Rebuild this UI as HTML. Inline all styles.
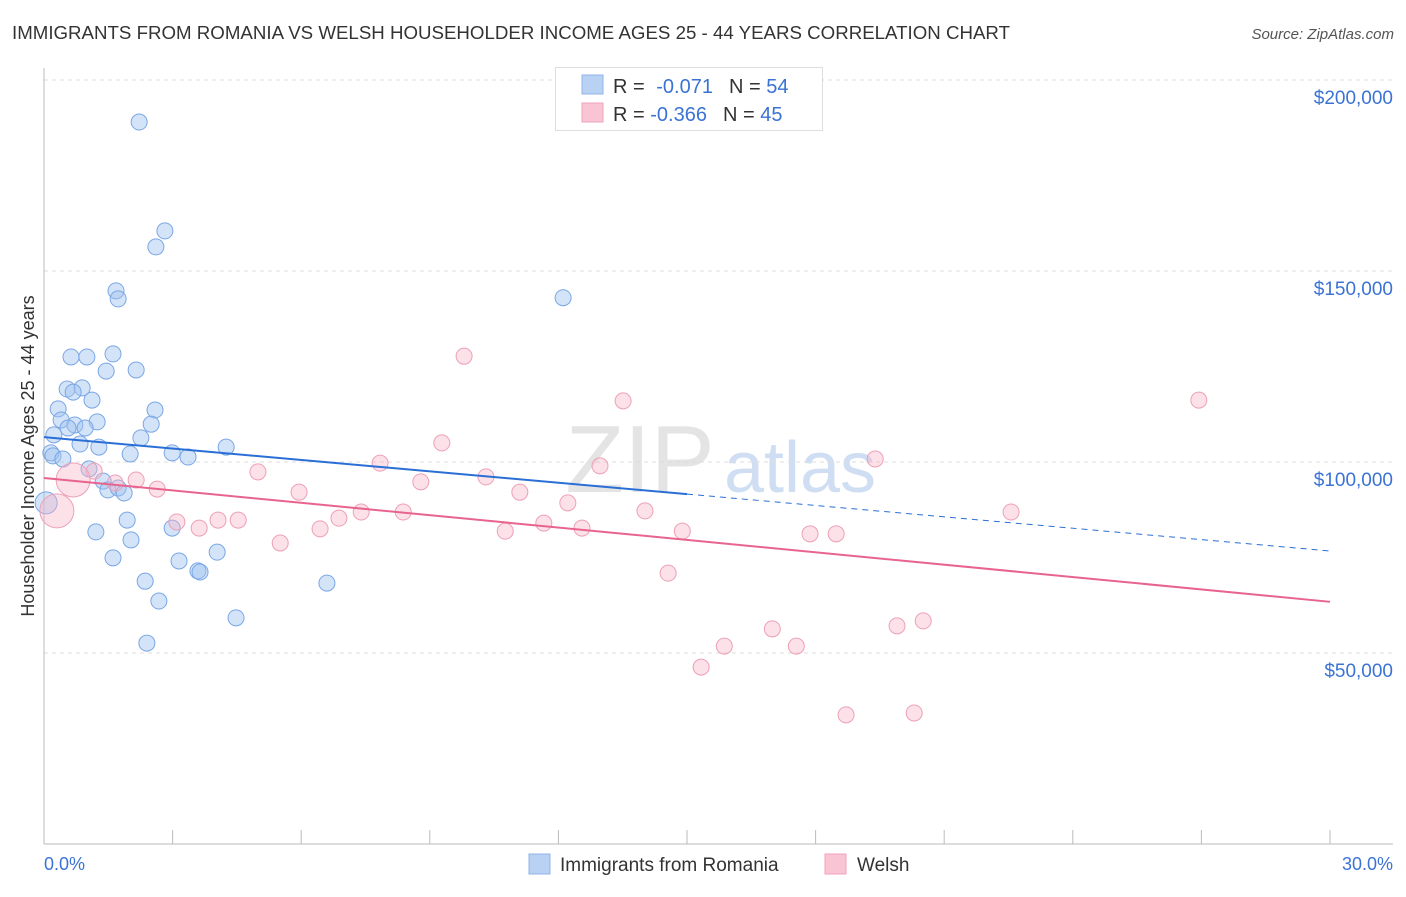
<!DOCTYPE html>
<html><head><meta charset="utf-8"><style>
body{margin:0;background:#fff;font-family:"Liberation Sans",sans-serif;}
svg text{font-family:"Liberation Sans",sans-serif;}
</style></head><body>
<svg id="chart" width="1406" height="892" xmlns="http://www.w3.org/2000/svg">
<text x="12" y="39" font-size="18" fill="#333" textLength="998" lengthAdjust="spacingAndGlyphs">IMMIGRANTS FROM ROMANIA VS WELSH HOUSEHOLDER INCOME AGES 25 - 44 YEARS CORRELATION CHART</text>
<text x="1394" y="39" font-size="15" fill="#555" font-style="italic" text-anchor="end">Source: ZipAtlas.com</text>
<text x="640" y="492" font-size="96" fill="#e4e4e4" text-anchor="middle" font-family="Liberation Serif">ZIP</text>
<text x="800" y="492" font-size="72" fill="#d0def4" text-anchor="middle">atlas</text>
<g id="grid"></g>
<line x1="44" y1="68" x2="44" y2="844" stroke="#bbb"/>
<line x1="44" y1="844" x2="1393" y2="844" stroke="#bbb"/>
<g id="xticks"></g>
<text transform="translate(34,456) rotate(-90)" font-size="18" fill="#333" text-anchor="middle">Householder Income Ages 25 - 44 years</text>
<text x="44" y="870" font-size="18" fill="#3b73d4">0.0%</text>
<text x="1393" y="870" font-size="18" fill="#3b73d4" text-anchor="end">30.0%</text>
<g id="points"></g>
<g id="trends"></g>
<g>
<rect x="555.5" y="67.5" width="267" height="63" fill="#fff" stroke="#ddd"/>
<rect x="582" y="75" width="21" height="19" fill="#b9d1f3" stroke="#8fb3ea"/>
<rect x="582" y="103" width="21" height="19" fill="#f9c5d5" stroke="#f0a3bb"/>
<text x="613" y="93" font-size="20" fill="#333">R = <tspan fill="#3b73d4" dx="6">-0.071</tspan><tspan dx="16">N = </tspan><tspan fill="#3b73d4">54</tspan></text>
<text x="613" y="121" font-size="20" fill="#333">R = <tspan fill="#3b73d4">-0.366</tspan><tspan dx="16">N = </tspan><tspan fill="#3b73d4">45</tspan></text>
</g>
<g>
<rect x="529" y="854" width="21" height="20" fill="#b9d1f3" stroke="#8fb3ea"/>
<text x="560" y="871" font-size="19" fill="#333">Immigrants from Romania</text>
<rect x="825" y="854" width="21" height="20" fill="#f9c5d5" stroke="#f0a3bb"/>
<text x="857" y="871" font-size="19" fill="#333">Welsh</text>
</g>
</svg>
<script>
const yTicks=[50,100,150,200];
const yTickLabels=["$50,000","$100,000","$150,000","$200,000"];
const xTicks=[0,3,6,9,12,15,18,21,24,27,30];
const blueX=[2.22,2.82,2.61,1.68,1.73,12.11,0.63,1.00,1.61,1.45,2.15,0.54,0.89,0.68,1.12,0.33,2.59,0.40,1.24,0.72,0.96,0.56,2.50,0.23,2.26,0.84,1.28,4.25,0.16,0.21,2.99,3.36,2.01,0.44,1.05,1.38,1.49,1.73,1.87,0.05,1.94,1.21,2.99,2.03,4.04,1.61,3.15,3.59,3.64,2.36,6.60,2.68,4.48,2.40];
const blueY=[189.0,160.5,156.3,144.8,142.7,143.0,127.5,127.5,128.3,123.8,124.1,119.1,119.4,118.3,116.2,113.9,113.6,111.0,110.5,109.7,108.9,108.9,109.9,107.1,106.3,104.7,103.9,103.9,102.4,101.6,102.4,101.3,102.1,100.8,98.2,95.0,92.7,93.2,91.9,89.3,84.8,81.7,82.7,79.6,76.4,74.9,74.1,71.5,71.2,68.8,68.3,63.6,59.2,52.6];
const pinkX=[9.80,26.94,13.51,9.28,19.39,12.97,7.84,4.99,10.31,1.17,0.68,2.15,1.66,8.79,5.95,2.64,11.10,12.22,0.30,14.02,22.56,7.40,8.38,6.88,4.53,4.06,3.10,3.62,6.44,11.66,10.76,12.55,14.89,17.87,18.48,5.51,14.56,16.99,20.51,19.90,17.55,15.87,15.33,18.71,20.30];
const pinkY=[127.7,116.2,116.0,105.0,100.8,99.0,99.7,97.4,96.1,97.6,95.3,95.3,94.5,94.8,92.1,92.9,92.1,89.3,87.2,87.2,86.9,86.9,86.9,85.3,84.8,84.8,84.3,82.7,82.5,84.0,81.9,82.7,81.9,81.2,81.2,78.8,70.9,56.3,58.4,57.1,51.8,51.8,46.3,33.8,34.3];
const blueTrend=[106.5,76.7];
const pinkTrend=[95.8,63.4];
const blueSolidEnd=15;
const NS="http://www.w3.org/2000/svg";
const xs=v=>44+v/30*1286;
const ys=v=>462-(v-100)*191/50;
function mk(tag,attrs,parent){const e=document.createElementNS(NS,tag);for(const k in attrs)e.setAttribute(k,attrs[k]);parent.appendChild(e);return e;}
const grid=document.getElementById('grid');
yTicks.forEach((t,i)=>{
  const l=mk('line',{x1:44,x2:1393,y1:ys(t),y2:ys(t),stroke:'#ddd','stroke-dasharray':'4,4'},grid);
  
  
  const tx=mk('text',{x:1393,y:ys(t)+24,'font-size':19,fill:'#3b73d4','text-anchor':'end'},grid);
  tx.textContent=yTickLabels[i];
  
  
});
const xt=document.getElementById('xticks');
xTicks.forEach(t=>{
  const l=mk('line',{x1:xs(t),x2:xs(t),y1:830,y2:844,stroke:'#bbb'},xt);
  
  
});
const pts=document.getElementById('points');
blueX.forEach((x,i)=>{
  const c=mk('circle',{cx:xs(x),cy:ys(blueY[i]),r:(i==39?11:8),fill:'rgba(160,195,240,0.45)',stroke:'#7aa6e6','stroke-width':1},pts);
  
  
});
pinkX.forEach((x,i)=>{
  const big=(i==10||i==18);
  const c=mk('circle',{cx:xs(x),cy:ys(pinkY[i]),r:big?17:8,fill:'rgba(248,180,200,0.4)',stroke:'#eda0b8','stroke-width':1},pts);
  
  
});
const tr=document.getElementById('trends');
const bAt=x=>blueTrend[0]+(blueTrend[1]-blueTrend[0])*x/30;
const pAt=x=>pinkTrend[0]+(pinkTrend[1]-pinkTrend[0])*x/30;
let l1=mk('line',{x1:xs(0),y1:ys(bAt(0)),x2:xs(blueSolidEnd),y2:ys(bAt(blueSolidEnd)),stroke:'#2a6fd6','stroke-width':2},tr);


let l2=mk('line',{x1:xs(blueSolidEnd),y1:ys(bAt(blueSolidEnd)),x2:xs(30),y2:ys(bAt(30)),stroke:'#2a6fd6','stroke-width':1,'stroke-dasharray':'6,5'},tr);


let l3=mk('line',{x1:xs(0),y1:ys(pAt(0)),x2:xs(30),y2:ys(pAt(30)),stroke:'#e8648e','stroke-width':2},tr);


</script>
</body></html>
